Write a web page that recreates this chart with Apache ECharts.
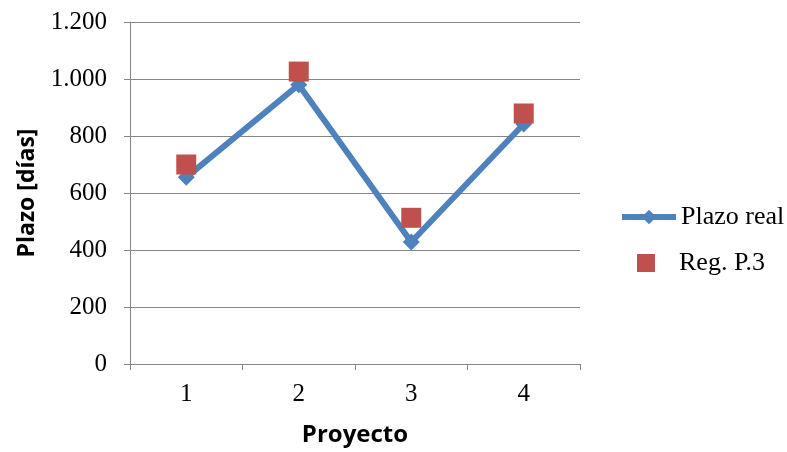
<!DOCTYPE html>
<html>
<head>
<meta charset="utf-8">
<script src="https://cdn.jsdelivr.net/npm/echarts@6/dist/echarts.min.js"></script>
<style>
  html, body { margin: 0; padding: 0; background: #fff; }
  #chart { width: 787px; height: 452px; }
</style>
</head>
<body>
<div id="chart"></div>
<script>
// Project categories and durations (days)
const proyectos = ['1', '2', '3', '4'];
const plazoReal = [655, 980, 428, 842];
const regP3 = [700, 1026, 513, 879];
const yTicks = [0, 200, 400, 600, 800, 1000, 1200];

const gray = '#868686';
const blue = '#4F81BD';
const red = '#C0504D';
const serif = '"Liberation Serif", "Times New Roman", serif';
const sans = '"Open Sans", "Noto Sans", sans-serif';

// Thousands separator as a dot (1.200)
function fmtMiles(v) {
  return String(v).replace(/\B(?=(\d{3})+(?!\d))/g, '.');
}

const legendText = { fontFamily: serif, fontSize: 26, color: '#000' };

const chart = echarts.init(document.getElementById('chart'), null, { renderer: 'canvas' });
chart.setOption({
  animation: false,
  backgroundColor: '#ffffff',
  grid: { left: 130, right: 207, top: 22, bottom: 84, containLabel: false },
  legend: [
    {
      left: 614,
      top: 199,
      itemWidth: 54,
      itemHeight: 18,
      lineStyle: { width: 6 },
      textStyle: legendText,
      data: [{ name: 'Plazo real' }]
    },
    {
      left: 632,
      top: 245,
      itemWidth: 18,
      itemHeight: 18,
      itemGap: 0,
      textStyle: Object.assign({ padding: [0, 0, 0, 19] }, legendText),
      data: [{ name: 'Reg. P.3', icon: 'rect' }]
    }
  ],
  xAxis: {
    type: 'category',
    data: proyectos,
    boundaryGap: true,
    name: 'Proyecto',
    nameLocation: 'middle',
    nameGap: 59,
    nameTextStyle: { fontFamily: sans, fontWeight: 'bold', fontSize: 24, color: '#000' },
    axisLine: { lineStyle: { color: gray, width: 1 } },
    axisTick: { show: true, length: 6, lineStyle: { color: gray } },
    axisLabel: { fontFamily: serif, fontSize: 25, color: '#000', margin: 18 },
    splitLine: { show: false }
  },
  yAxis: {
    type: 'value',
    min: yTicks[0],
    max: yTicks[yTicks.length - 1],
    interval: 200,
    name: 'Plazo [días]',
    nameLocation: 'middle',
    nameRotate: 90,
    nameGap: 91,
    nameTextStyle: { fontFamily: sans, fontWeight: 'bold', fontSize: 23, color: '#000' },
    axisLine: { show: true, lineStyle: { color: gray, width: 1 } },
    axisTick: { show: true, length: 6, lineStyle: { color: gray } },
    axisLabel: { fontFamily: serif, fontSize: 25, color: '#000', margin: 23, formatter: fmtMiles },
    splitLine: { show: true, lineStyle: { color: gray, width: 1 } }
  },
  series: [
    {
      name: 'Plazo real',
      type: 'line',
      data: plazoReal,
      symbol: 'diamond',
      symbolSize: 17,
      color: blue,
      lineStyle: { width: 6, color: blue },
      itemStyle: { color: blue, opacity: 1 },
      z: 2
    },
    {
      name: 'Reg. P.3',
      type: 'scatter',
      data: regP3,
      symbol: 'rect',
      symbolSize: 20,
      color: red,
      itemStyle: { color: red, opacity: 1 },
      z: 3
    }
  ]
});
</script>
</body>
</html>
